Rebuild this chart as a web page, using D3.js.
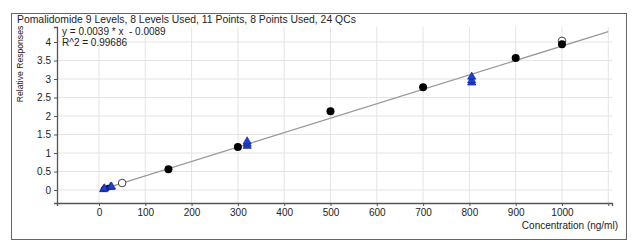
<!DOCTYPE html>
<html>
<head>
<meta charset="utf-8">
<script src="https://cdn.jsdelivr.net/npm/d3@7"></script>
<style>
  body { margin: 0; background: #fff; }
  text { font-family: "Liberation Sans", Arial, sans-serif; fill: #222; }
</style>
</head>
<body>
<div id="plot"></div>
<script>
// calibration data
const usedConc = [10, 20, 150, 300, 500, 700, 900, 1000];
const usedResp = [0.03, 0.07, 0.56, 1.16, 2.13, 2.78, 3.57, 3.94];
const excludedConc = [50, 1000];
const excludedResp = [0.19, 4.03];
const qcConc = [10, 12, 25, 27, 320, 320, 320, 805, 805, 805];
const qcResp = [0.02, 0.04, 0.08, 0.09, 1.19, 1.25, 1.31, 2.9, 2.96, 3.06];
const xTicks = [0, 100, 200, 300, 400, 500, 600, 700, 800, 900, 1000, 1100];
const yTicks = [0, 0.5, 1, 1.5, 2, 2.5, 3, 3.5, 4];
const slope = 0.0039, intercept = -0.0089;

const W = 643, H = 248;
const svg = d3.select("#plot").append("svg")
    .attr("width", W).attr("height", H);

// outer frame
svg.append("rect")
    .attr("x", 11.5).attr("y", 13.5)
    .attr("width", 615).attr("height", 226)
    .attr("fill", "none").attr("stroke", "#666").attr("stroke-width", 1);

svg.append("text")
    .attr("x", 17).attr("y", 23)
    .attr("font-size", 10.4)
    .text("Pomalidomide 9 Levels, 8 Levels Used, 11 Points, 8 Points Used, 24 QCs");

const x = d3.scaleLinear().domain([-90.7, 1108]).range([57, 612]);
const y = d3.scaleLinear().domain([-0.35, 4.405]).range([203, 27]);

// grid
svg.append("g").selectAll("line").data(xTicks).enter().append("line")
    .attr("x1", d => x(d)).attr("x2", d => x(d))
    .attr("y1", y.range()[1]).attr("y2", y.range()[0])
    .attr("stroke", "#e4e4e4");
svg.append("g").selectAll("line").data(yTicks).enter().append("line")
    .attr("x1", x.range()[0]).attr("x2", x.range()[1])
    .attr("y1", d => y(d)).attr("y2", d => y(d))
    .attr("stroke", "#e4e4e4");

// axes
const xAxis = svg.append("g")
    .attr("transform", "translate(0," + y.range()[0] + ")")
    .call(d3.axisBottom(x).tickValues(xTicks).tickSize(3)
        .tickFormat(d => d <= 1000 ? d : ""));
const yAxis = svg.append("g")
    .attr("transform", "translate(" + x.range()[0] + ",0)")
    .call(d3.axisLeft(y).tickValues(yTicks).tickSize(3).tickFormat(d => d));
[xAxis, yAxis].forEach(a => {
    a.select(".domain").attr("stroke", "#555").attr("stroke-width", 1.3);
    a.selectAll(".tick line").attr("stroke", "#555");
    a.selectAll("text").attr("font-size", 10)
        .style("font-family", '"Liberation Sans", Arial, sans-serif').attr("fill", "#333");
});

// labels
svg.append("text")
    .attr("transform", "translate(23,64) rotate(-90)")
    .attr("text-anchor", "middle").attr("font-size", 8.6)
    .text("Relative Responses");
svg.append("text")
    .attr("x", 618).attr("y", 229)
    .attr("text-anchor", "end").attr("font-size", 10)
    .text("Concentration (ng/ml)");
svg.append("text")
    .attr("x", 62).attr("y", 35).attr("font-size", 10)
    .attr("xml:space", "preserve")
    .text("y = 0.0039 * x  - 0.0089");
svg.append("text")
    .attr("x", 62).attr("y", 46).attr("font-size", 10)
    .text("R^2 = 0.99686");

// regression line
svg.append("path")
    .datum([10, 1100])
    .attr("fill", "none").attr("stroke", "#999").attr("stroke-width", 1.3)
    .attr("d", d3.line().x(d => x(d)).y(d => y(slope * d + intercept)));

// excluded points
svg.append("g").selectAll("circle").data(excludedConc).enter().append("circle")
    .attr("cx", d => x(d)).attr("cy", (d, i) => y(excludedResp[i]))
    .attr("r", 3.8).attr("fill", "#fff").attr("stroke", "#444").attr("stroke-width", 1);

// used points
svg.append("g").selectAll("circle").data(usedConc).enter().append("circle")
    .attr("cx", d => x(d)).attr("cy", (d, i) => y(usedResp[i]))
    .attr("r", d => d < 50 ? 2.8 : 4).attr("fill", "#000");

// QCs
const tri = d3.symbol().type(d3.symbolTriangle).size(30);
svg.append("g").selectAll("path").data(qcConc).enter().append("path")
    .attr("d", tri)
    .attr("transform", (d, i) => "translate(" + x(d) + "," + y(qcResp[i]) + ")")
    .attr("fill", "#1e3fd8").attr("stroke", "#10207a").attr("stroke-width", 0.6);
</script>
</body>
</html>
